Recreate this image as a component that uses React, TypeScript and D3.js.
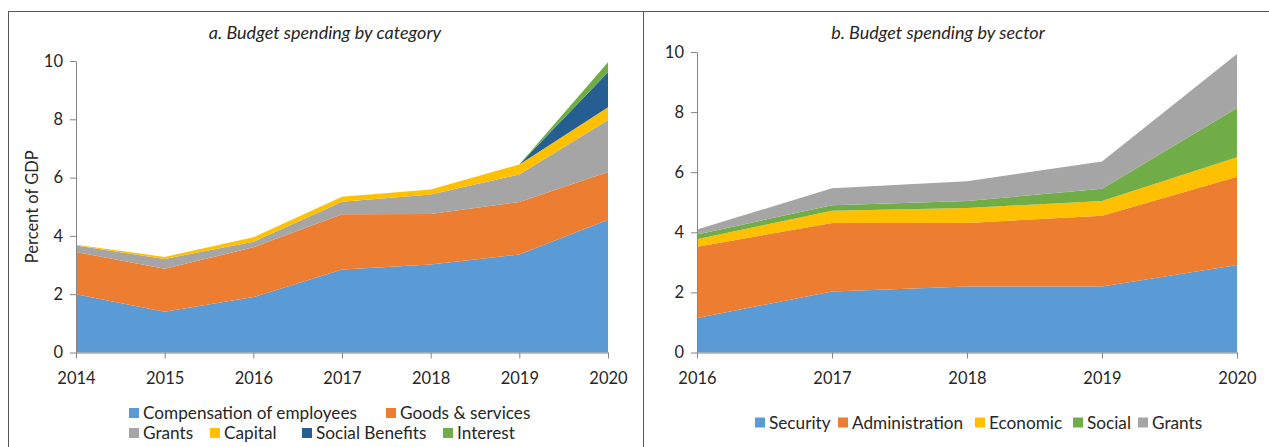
import React, { useEffect, useRef } from "react"
import * as d3 from "d3"

// panel a: budget spending by category (percent of GDP)
const yearsA = ["2014", "2015", "2016", "2017", "2018", "2019", "2020"]
const compensation = [2.0, 1.4, 1.9, 2.85, 3.02, 3.36, 4.55]
const goodsServices = [1.45, 1.47, 1.71, 1.89, 1.73, 1.8, 1.64]
const grantsA = [0.22, 0.34, 0.19, 0.43, 0.67, 0.95, 1.79]
const capital = [0.03, 0.07, 0.15, 0.17, 0.17, 0.34, 0.43]
const socialBenefits = [0, 0, 0, 0, 0, 0, 1.2]
const interest = [0, 0, 0, 0, 0, 0, 0.35]

// panel b: budget spending by sector
const yearsB = ["2016", "2017", "2018", "2019", "2020"]
const security = [1.15, 2.03, 2.2, 2.2, 2.91]
const administration = [2.37, 2.28, 2.11, 2.35, 2.94]
const economic = [0.25, 0.41, 0.5, 0.49, 0.65]
const social = [0.16, 0.18, 0.23, 0.41, 1.64]
const grantsB = [0.16, 0.57, 0.66, 0.91, 1.79]

const yTicks = [0, 2, 4, 6, 8, 10]

const seriesA = [
    { name: "Compensation of employees", values: compensation, color: "#5B9BD5" },
    { name: "Goods & services", values: goodsServices, color: "#ED7D31" },
    { name: "Grants", values: grantsA, color: "#A5A5A5" },
    { name: "Capital", values: capital, color: "#FFC000" },
    { name: "Social Benefits", values: socialBenefits, color: "#255E91" },
    { name: "Interest", values: interest, color: "#70AD47" },
]

const seriesB = [
    { name: "Security", values: security, color: "#5B9BD5" },
    { name: "Administration", values: administration, color: "#ED7D31" },
    { name: "Economic", values: economic, color: "#FFC000" },
    { name: "Social", values: social, color: "#70AD47" },
    { name: "Grants", values: grantsB, color: "#A5A5A5" },
]

const FONT = "Lato, 'Open Sans', sans-serif"
const TEXT = "#262626"
const AXIS = "#868686"

type Series = { name: string; values: number[]; color: string }

type PanelCfg = {
    title: string
    titleX: number
    years: string[]
    series: Series[]
    x0: number
    x1: number
    yTop: number
    yBottom: number
    yLabel?: string
    legend: { x: number; y: number }[]
}

function drawPanel(svg: d3.Selection<SVGSVGElement, unknown, null, undefined>, cfg: PanelCfg) {
    const g = svg.append("g")

    const x = d3.scalePoint<string>().domain(cfg.years).range([cfg.x0, cfg.x1])
    const y = d3.scaleLinear().domain([0, 10]).range([cfg.yBottom, cfg.yTop])

    const rows = cfg.years.map((yr, i) => {
        const r: Record<string, number | string> = { year: yr }
        cfg.series.forEach((s) => (r[s.name] = s.values[i]))
        return r
    })
    const stack = d3.stack<Record<string, number | string>>().keys(cfg.series.map((s) => s.name))
    const layers = stack(rows as any)

    const area = d3
        .area<any>()
        .x((d) => x(d.data.year as string) as number)
        .y0((d) => y(d[0]))
        .y1((d) => y(d[1]))

    g.append("g")
        .selectAll("path")
        .data(layers)
        .enter()
        .append("path")
        .attr("d", (d) => area(d as any))
        .attr("fill", (d, i) => cfg.series[i].color)

    // y axis
    const ya = g
        .append("g")
        .attr("transform", "translate(" + cfg.x0 + ",0)")
        .call(d3.axisLeft(y).tickValues(yTicks).tickSize(6).tickPadding(7).tickSizeOuter(0))
    ya.select(".domain").attr("stroke", AXIS)
    ya.selectAll(".tick line").attr("stroke", AXIS)
    ya.selectAll("text").attr("font-family", FONT).attr("font-size", 16.5).attr("fill", TEXT)

    // x axis
    const xa = g
        .append("g")
        .attr("transform", "translate(0," + cfg.yBottom + ")")
        .call(d3.axisBottom(x).tickSize(6).tickPadding(14).tickSizeOuter(0))
    xa.select(".domain").attr("stroke", AXIS)
    xa.selectAll(".tick line").attr("stroke", AXIS)
    xa.selectAll("text").attr("font-family", FONT).attr("font-size", 16.5).attr("fill", TEXT)

    g.append("text")
        .attr("x", cfg.titleX)
        .attr("y", 39)
        .attr("text-anchor", "middle")
        .attr("font-family", FONT)
        .attr("font-style", "italic")
        .attr("font-size", 18)
        .attr("fill", TEXT)
        .text(cfg.title)

    if (cfg.yLabel) {
        g.append("text")
            .attr("transform", "translate(38," + (cfg.yTop + cfg.yBottom) / 2 + ") rotate(-90)")
            .attr("text-anchor", "middle")
            .attr("font-family", FONT)
            .attr("font-size", 16.5)
            .attr("fill", TEXT)
            .text(cfg.yLabel)
    }

    const leg = g.append("g")
    cfg.series.forEach((s, i) => {
        const p = cfg.legend[i]
        leg.append("rect")
            .attr("x", p.x)
            .attr("y", p.y - 5)
            .attr("width", 10)
            .attr("height", 10)
            .attr("fill", s.color)
        leg.append("text")
            .attr("x", p.x + 14)
            .attr("y", p.y)
            .attr("dy", "0.35em")
            .attr("font-family", FONT)
            .attr("font-size", 17.2)
            .attr("fill", TEXT)
            .text(s.name)
    })
}

const App = () => {
    const ref = useRef<SVGSVGElement>(null)

    useEffect(() => {
        if (!ref.current) return
        const svg = d3.select(ref.current)
        svg.selectAll("*").remove()

        svg.append("rect").attr("x", 8.5).attr("y", 11.5).attr("width", 635).attr("height", 460)
            .attr("fill", "none").attr("stroke", "#595959")
        svg.append("rect").attr("x", 643.5).attr("y", 11.5).attr("width", 640).attr("height", 460)
            .attr("fill", "none").attr("stroke", "#595959")

        drawPanel(svg, {
            title: "a. Budget spending by category",
            titleX: 325,
            years: yearsA,
            series: seriesA,
            x0: 76,
            x1: 608,
            yTop: 61,
            yBottom: 352.5,
            yLabel: "Percent of GDP",
            legend: [
                { x: 129, y: 413 },
                { x: 386, y: 413 },
                { x: 129, y: 433 },
                { x: 210, y: 433 },
                { x: 302, y: 433 },
                { x: 443, y: 433 },
            ],
        })

        drawPanel(svg, {
            title: "b. Budget spending by sector",
            titleX: 938,
            years: yearsB,
            series: seriesB,
            x0: 697,
            x1: 1237,
            yTop: 52,
            yBottom: 352.5,
            legend: [
                { x: 755, y: 422.5 },
                { x: 838, y: 422.5 },
                { x: 975, y: 422.5 },
                { x: 1073, y: 422.5 },
                { x: 1138, y: 422.5 },
            ],
        })
    }, [])

    return (
        <svg
            ref={ref}
            width={1269}
            height={447}
            style={{ position: "absolute", left: 0, top: 0, background: "#fff" }}
        />
    )
}

export default App
